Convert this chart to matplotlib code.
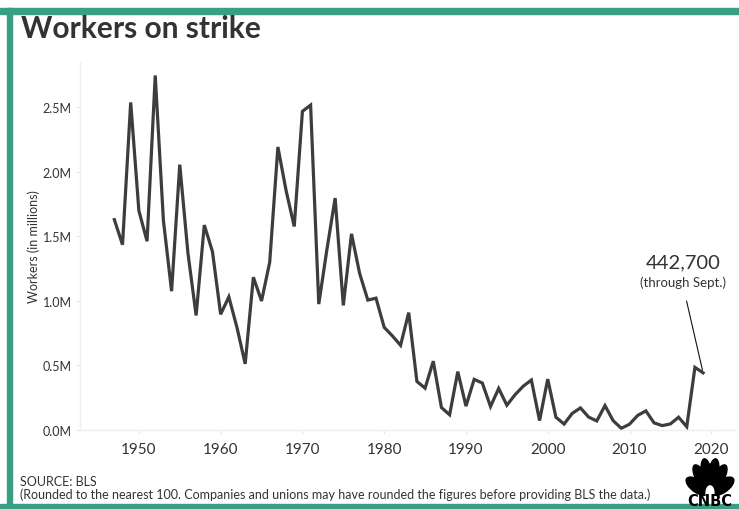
import numpy as np
import matplotlib
matplotlib.use("Agg")
import matplotlib.pyplot as plt
from matplotlib.patches import Ellipse, Rectangle

# workers involved in major work stoppages, thousands
years = np.arange(1947, 2020)
workers_k = [1629, 1435, 2537, 1698, 1462, 2746, 1623, 1075, 2055, 1370,
             887, 1587, 1381, 896, 1031, 793, 512, 1183, 999, 1300,
             2192, 1855, 1576, 2468, 2516, 975, 1400, 1796, 965, 1519,
             1212, 1006, 1021, 795, 729, 656, 909, 376, 324, 533,
             174, 118, 452, 185, 392, 364, 182, 322, 192, 273,
             339, 387, 73, 394, 99, 46, 129, 171, 100, 70,
             189, 72, 13, 45, 113, 148, 55, 34, 47, 99,
             25, 485, 442.7]
workers = np.array(workers_k) / 1000.0

xticks = [1950, 1960, 1970, 1980, 1990, 2000, 2010, 2020]
yticks = [0.0, 0.5, 1.0, 1.5, 2.0, 2.5]
ytick_labels = ["%.1fM" % v for v in yticks]

teal = "#3a9e87"
ink = "#3d3d3d"
txt = "#333333"
plt.rcParams["font.family"] = ["Lato", "DejaVu Sans"]

fig = plt.figure(figsize=(7.39, 5.10), dpi=100)
W, H = 739, 510

# frame: top, left and bottom teal bands
fig.patches.append(Rectangle((0, 1 - 15 / H), 1, 6 / H, transform=fig.transFigure,
                             color=teal, zorder=0))
fig.patches.append(Rectangle((7 / W, 0), 5 / W, 1 - 9 / H, transform=fig.transFigure,
                             color=teal, zorder=0))
fig.patches.append(Rectangle((0, 0), 1, 5 / H, transform=fig.transFigure,
                             color=teal, zorder=0))

fig.text(21 / W, 1 - 29 / H, "Workers on strike", fontsize=21.5, fontweight="bold",
         color=txt, va="center", ha="left")

ax = fig.add_axes([80 / W, 1 - 431 / H, 655 / W, 368 / H])
ax.plot(years, workers, color=ink, lw=2.3, solid_joinstyle="miter")
ax.set_xlim(1942.8, 2022.9)
ax.set_ylim(0, 2.85)
ax.set_xticks(xticks)
ax.set_xticklabels([str(x) for x in xticks], fontsize=11, color=txt)
ax.set_yticks(yticks)
ax.set_yticklabels(ytick_labels, fontsize=9, color=txt)
ax.tick_params(axis="both", color="#e6e6e6", length=3)
ax.tick_params(axis="x", pad=6)
ax.tick_params(axis="y", pad=3)
for s in ["top", "right"]:
    ax.spines[s].set_visible(False)
for s in ["left", "bottom"]:
    ax.spines[s].set_color("#eeeeee")
    ax.spines[s].set_linewidth(1)
ax.set_ylabel("Workers (in millions)", fontsize=9, color=txt, labelpad=2)

# annotation for the latest year
ax.annotate("", xy=(years[-1], workers[-1]), xytext=(2016.9, 1.02),
            arrowprops=dict(arrowstyle="-", color="#111111", lw=0.8))
ax.text(2016.6, 1.30, "442,700", fontsize=14.5, color=txt, ha="center", va="center")
ax.text(2016.6, 1.145, "(through Sept.)", fontsize=9.5, color=txt, ha="center", va="center")

fig.text(20 / W, 1 - 482 / H, "SOURCE: BLS", fontsize=9, color=txt, va="center")
fig.text(20 / W, 1 - 495 / H,
         "(Rounded to the nearest 100. Companies and unions may have rounded the figures before providing BLS the data.)",
         fontsize=9, color=txt, va="center")

# CNBC peacock
lax = fig.add_axes([683 / W, 1 - 497 / H, 54 / W, 39 / H])
lax.set_xlim(-1.1, 1.1)
lax.set_ylim(-0.05, 1.2)
lax.set_aspect("auto")
lax.axis("off")
angles = [160, 130, 104, 76, 50, 20]
for a in angles:
    r = np.deg2rad(a)
    cx, cy = 0.55 * np.cos(r), 0.05 + 0.62 * np.sin(r)
    lax.add_patch(Ellipse((cx, cy), 1.0, 0.42, angle=a * 0.9 + 9, color="black"))
lax.add_patch(Ellipse((0, 0.05), 0.32, 0.45, color="white"))
fig.text(710 / W, 1 - 502 / H, "CNBC", fontsize=10.5, fontweight="heavy",
         family="DejaVu Sans", color="black", ha="center", va="center")

fig.savefig("out.png", dpi=100)
